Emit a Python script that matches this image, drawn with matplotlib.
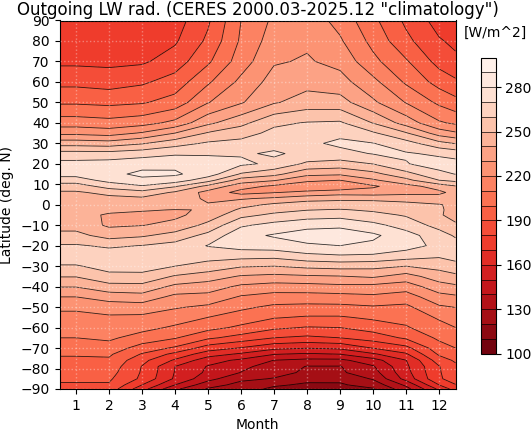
import numpy as np
import matplotlib
matplotlib.use("Agg")
import matplotlib.pyplot as plt

# zonal mean OLR [W/m^2] per month, one value per entry of lat
lat = [90, 80, 70, 60, 50, 40, 35, 30, 25, 20, 15, 12, 9, 6, 3, 0, -2.5, -5, -10, -15, -20, -25, -30, -35,
       -40, -45, -50, -55, -60, -65, -70, -73, -76, -79, -82, -85, -88, -90]

jan = [171, 174.6, 178, 187.2, 198.6, 215, 227.5, 245.7, 264, 273, 273, 266, 254, 249, 247, 246, 244.5, 243, 246, 253,
       261, 267, 259, 250.5, 240.4, 230, 222, 217, 213.5, 210, 204, 201, 198, 196, 194, 191.5, 189, 187]
feb = [169.8, 173.8, 177.6, 185.6, 197.5, 213.5, 225.5, 244.5, 263.7, 274, 277, 273, 264.6, 252, 248, 245, 242, 239, 238.5, 246,
       258.5, 265, 264, 257, 246.5, 234.5, 224.6, 218.6, 215, 211.7, 206, 201.5, 198.4, 196, 193.8, 191.5, 189, 186]
mar = [172, 175, 178.5, 188.4, 199, 216, 231, 249, 266, 276, 282.5, 277.5, 269, 256.5, 248, 245.5, 240.6, 238.5, 239.7, 248.5,
       260.3, 267, 264.5, 257, 247, 236, 225.4, 218, 213, 206, 195.6, 189.2, 183, 179.6, 179, 178, 170, 164]
apr = [175.5, 178.7, 184.7, 194.3, 204, 222.8, 240, 256, 268.6, 277.5, 281.5, 275.5, 261, 248.5, 245.5, 243.5, 239.8, 238, 242.7, 254,
       263.5, 267, 260, 249, 237.5, 227.4, 221, 214.8, 208.5, 200.8, 188.5, 177, 168.5, 160, 159.5, 158.5, 150, 142]
may = [188.5, 192, 198.3, 208.5, 219.5, 237.7, 251, 261.4, 268.5, 276, 275, 264, 247, 236.5, 238.3, 240.7, 240.2, 244, 253, 263,
       270.5, 264, 256, 245, 235, 226.7, 218, 210, 203.2, 191.8, 175, 164.5, 154, 149.3, 148, 143.5, 134, 129]
jun = [210, 211.5, 215, 222.5, 229, 247, 256, 263, 269, 272, 259, 245.5, 234, 226.5, 239, 246.5, 252, 257, 268.5, 277,
       274, 263.7, 251, 239, 228, 219, 212, 205.5, 198, 186, 169.3, 158.3, 148, 142, 139.7, 132, 127, 124]
jul = [222, 225, 229, 234, 239, 258, 262.6, 267.5, 271, 268, 253, 241, 228, 229.5, 242, 252, 256.7, 262, 273.3, 281,
       275.5, 263, 250, 237.5, 225.6, 216, 208, 200.8, 192, 180, 162.5, 150.4, 139.8, 136.5, 133, 129.5, 121.3, 118]
aug = [226, 228.5, 231, 236.6, 244.4, 260.6, 263, 268, 268, 258, 242.5, 232.6, 222, 232.5, 246, 255.3, 259.6, 265.3, 276.8, 285,
       278.4, 267.4, 252.5, 238.7, 226.2, 215.8, 207.3, 199, 189.3, 177.9, 160.3, 148.4, 137.6, 129.5, 128.5, 122.5, 118.6, 114]
sep = [216.6, 221.3, 227, 233.8, 244, 261.4, 267.6, 272, 267, 256, 241.5, 230, 223, 235, 248, 254.5, 260.8, 266.3, 277.9, 285.5,
       280, 269, 253.8, 239.5, 227.5, 216.4, 207.5, 199, 190, 180, 161.8, 150, 137.6, 129.5, 128.5, 122.3, 118.8, 115]
oct_ = [202.5, 207, 212.7, 222.8, 231.8, 249.6, 261.4, 270.3, 270.5, 260.2, 247, 238.6, 228.5, 234.8, 247, 255.9, 258.5, 263, 272.7, 282,
        277.8, 268.5, 253, 241.5, 227, 218, 209, 201.8, 194.3, 184.6, 170.3, 158.4, 146, 139, 136, 131, 123.8, 119]
nov = [188, 192.6, 201.2, 208.5, 219.5, 235.7, 250.9, 264, 271, 269.5, 256.6, 247.3, 236.3, 236.7, 246.7, 252.6, 255.8, 259, 266, 273.8,
       274, 265, 250, 236, 224.7, 215.2, 207.8, 203.4, 199, 191.5, 177, 168.6, 159.7, 158, 156.5, 153.5, 142, 136]
dec = [176, 181, 186.5, 196.2, 208, 221.4, 235.5, 253.2, 268.3, 274, 267.5, 260, 244.2, 237.7, 245, 250.5, 251, 251, 256.5, 264.5,
       267.5, 261.3, 253.3, 245, 235.7, 226.5, 218.5, 211.3, 206.4, 201.8, 195.9, 191.4, 185, 179.5, 179, 178.5, 170, 162]

months = [1, 2, 3, 4, 5, 6, 7, 8, 9, 10, 11, 12]
levels = np.arange(100, 301, 10)
cbar_ticks = [100, 130, 160, 190, 220, 250, 280]

# pad half a month on both sides so the field reaches the frame
data = np.array([jan, feb, mar, apr, may, jun, jul, aug, sep, oct_, nov, dec]).T
left_col = data[:, 0]
right_col = 0.5 * (data[:, 0] + data[:, -1])
field = np.column_stack([left_col, data, right_col])
x = np.r_[0.5, months, 12.5]

W, H = 531, 433
fig = plt.figure(figsize=(W / 100, H / 100), dpi=100)
ax = fig.add_axes([59.5 / W, 1 - 389 / H, 396 / W, 368.5 / H])

cf = ax.contourf(x, lat, field, levels=levels, cmap="Reds_r")
cs = ax.contour(x, lat, field, levels=levels, colors="k", linewidths=0.6, alpha=0.8)

ax.set_xlim(0.5, 12.5)
ax.set_ylim(-90, 90)
ax.set_xticks(months)
ax.set_yticks(np.arange(-90, 91, 10))
ax.set_axisbelow(False)
ax.grid(color="w", linestyle=":", linewidth=1.0, alpha=0.35)
ax.set_xlabel("Month")
ax.set_ylabel("Latitude (deg. N)", labelpad=4.5)
ax.set_title('Outgoing LW rad. (CERES 2000.03-2025.12 "climatology")', fontsize=12, pad=4)

cax = fig.add_axes([480.5 / W, 1 - 353.5 / H, 15 / W, 296 / H])
cb = fig.colorbar(cf, cax=cax, ticks=cbar_ticks)
cb.add_lines(cs)
fig.text(495.5 / W, 1 - 33 / H, "[W/m^2]", ha="center", va="center", fontsize=10)

fig.savefig("out.png", dpi=100)
